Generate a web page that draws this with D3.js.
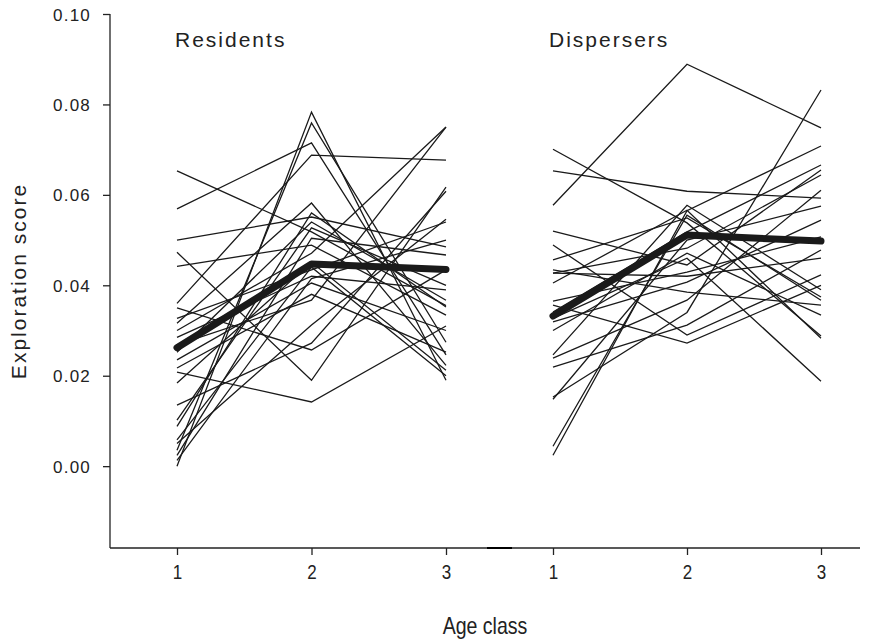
<!DOCTYPE html>
<html>
<head>
<meta charset="utf-8">
<script src="https://cdn.jsdelivr.net/npm/d3@7"></script>
<style>
  html, body { margin: 0; padding: 0; background: #fff; }
  svg { display: block; font-family: "Liberation Sans", Arial, sans-serif; }
</style>
</head>
<body>
<svg id="chart" width="878" height="641"></svg>
<script>
// ---- Data ----
const ageClasses = [1, 2, 3];
const panelTitles = ["Residents", "Dispersers"];
const yTicks = [0.00, 0.02, 0.04, 0.06, 0.08, 0.10];

// Individual exploration scores at age classes 1, 2, 3
const residents = [
  [0.0653, 0.0518, 0.0355],
  [0.0569, 0.0715, 0.0246],
  [0.0500, 0.0551, 0.0485],
  [0.0473, 0.0190, 0.0617],
  [0.0442, 0.0489, 0.0334],
  [0.0360, 0.0688, 0.0677],
  [0.0350, 0.0257, 0.0434],
  [0.0327, 0.0434, 0.0540],
  [0.0316, 0.0582, 0.0223],
  [0.0300, 0.0471, 0.0750],
  [0.0285, 0.0420, 0.0390],
  [0.0268, 0.0367, 0.0750],
  [0.0252, 0.0540, 0.0367],
  [0.0235, 0.0405, 0.0300],
  [0.0217, 0.0380, 0.0252],
  [0.0208, 0.0142, 0.0310],
  [0.0184, 0.0451, 0.0212],
  [0.0135, 0.0272, 0.0608],
  [0.0102, 0.0527, 0.0400],
  [0.0088, 0.0560, 0.0352],
  [0.0058, 0.0440, 0.0200],
  [0.0050, 0.0312, 0.0546],
  [0.0035, 0.0759, 0.0274],
  [0.0024, 0.0504, 0.0467],
  [0.0013, 0.0415, 0.0500],
  [0.0000, 0.0783, 0.0190]
];
const residentsMean = [0.0262, 0.0447, 0.0435];

const dispersers = [
  [0.0701, 0.0538, 0.0288],
  [0.0653, 0.0608, 0.0593],
  [0.0577, 0.0889, 0.0748],
  [0.0520, 0.0445, 0.0655],
  [0.0489, 0.0290, 0.0423],
  [0.0456, 0.0549, 0.0374],
  [0.0434, 0.0385, 0.0356],
  [0.0427, 0.0482, 0.0644],
  [0.0405, 0.0566, 0.0283],
  [0.0365, 0.0429, 0.0507],
  [0.0356, 0.0272, 0.0400],
  [0.0341, 0.0518, 0.0666],
  [0.0327, 0.0460, 0.0188],
  [0.0319, 0.0407, 0.0544],
  [0.0300, 0.0471, 0.0334],
  [0.0246, 0.0577, 0.0390],
  [0.0239, 0.0367, 0.0610],
  [0.0219, 0.0312, 0.0478],
  [0.0153, 0.0340, 0.0832],
  [0.0148, 0.0500, 0.0575],
  [0.0044, 0.0555, 0.0367],
  [0.0024, 0.0565, 0.0708],
  [0.0427, 0.0420, 0.0460]
];
const dispersersMean = [0.0332, 0.0511, 0.0498];

// ---- Layout ----
const svg = d3.select("#chart");
const ink = "#222";
const mainFont = "'Liberation Sans', Arial, sans-serif";
const y = d3.scaleLinear().domain([-0.0181, 0.10]).range([548, 14]);
const xL = d3.scaleLinear().domain([1, 3]).range([177, 446]);
const xR = d3.scaleLinear().domain([1, 3]).range([553, 821]);

// Y axis
const yAxis = d3.axisLeft(y).tickValues(yTicks).tickFormat(d3.format(".2f"))
  .tickSize(7).tickPadding(12);
const gy = svg.append("g").attr("transform", "translate(110,0)").call(yAxis)
  .attr("font-family", mainFont).attr("font-size", 17);
gy.select(".domain").attr("d", `M0,${y(0.10)}V548`).attr("stroke", ink).attr("stroke-width", 1.3);
gy.selectAll(".tick line").attr("stroke", ink).attr("stroke-width", 1.3);
gy.selectAll(".tick text").attr("fill", ink).attr("font-size", 17)
  .attr("font-family", mainFont).attr("letter-spacing", "1.2px").attr("dy", "0.36em");

// X axes (two panels), labels slightly condensed
function drawX(scale, x0, x1) {
  const ax = d3.axisBottom(scale).tickValues(ageClasses).tickFormat(d3.format("d"))
    .tickSize(7).tickPadding(10);
  const g = svg.append("g").attr("transform", "translate(0,548)").call(ax)
    .attr("font-family", mainFont).attr("font-size", 20);
  g.select(".domain").attr("d", `M${x0},0H${x1}`).attr("stroke", ink).attr("stroke-width", 1.3);
  g.selectAll(".tick line").attr("stroke", ink).attr("stroke-width", 1.3);
  g.selectAll(".tick text").attr("fill", ink).attr("font-size", 20)
    .attr("transform", "scale(0.85,1)");
}
drawX(xL, 110, 512);
drawX(xR, 487, 860);
// overlapping section appears darker
svg.append("line").attr("x1", 487).attr("x2", 512).attr("y1", 548).attr("y2", 548)
  .attr("stroke", "#000").attr("stroke-width", 2);

// Lines
const panels = [
  { x: xL, data: residents, mean: residentsMean, title: panelTitles[0], tx: 175 },
  { x: xR, data: dispersers, mean: dispersersMean, title: panelTitles[1], tx: 549 }
];
panels.forEach(p => {
  const line = d3.line().x((d, i) => p.x(ageClasses[i])).y(d => y(d));
  svg.append("g").selectAll("path").data(p.data).join("path")
    .attr("d", line).attr("fill", "none").attr("stroke", "#1a1a1a").attr("stroke-width", 1.3)
    .attr("stroke-linejoin", "miter");
  svg.append("path").attr("d", line(p.mean)).attr("fill", "none")
    .attr("stroke", "#1a1a1a").attr("stroke-width", 7)
    .attr("stroke-linecap", "round").attr("stroke-linejoin", "round");
  svg.append("text").attr("x", p.tx).attr("y", 47).text(p.title)
    .attr("fill", ink).attr("font-family", mainFont).attr("font-size", 21)
    .attr("letter-spacing", "2px");
});

// Axis titles
svg.append("text").attr("transform", "translate(26,281) rotate(-90)")
  .attr("text-anchor", "middle").attr("fill", ink).attr("font-family", mainFont)
  .attr("font-size", 21).attr("letter-spacing", "2px").text("Exploration score");
svg.append("text").attr("transform", "translate(485,634) scale(0.85,1)")
  .attr("text-anchor", "middle").attr("fill", ink).attr("font-family", mainFont)
  .attr("font-size", 23).text("Age class");
</script>
</body>
</html>
